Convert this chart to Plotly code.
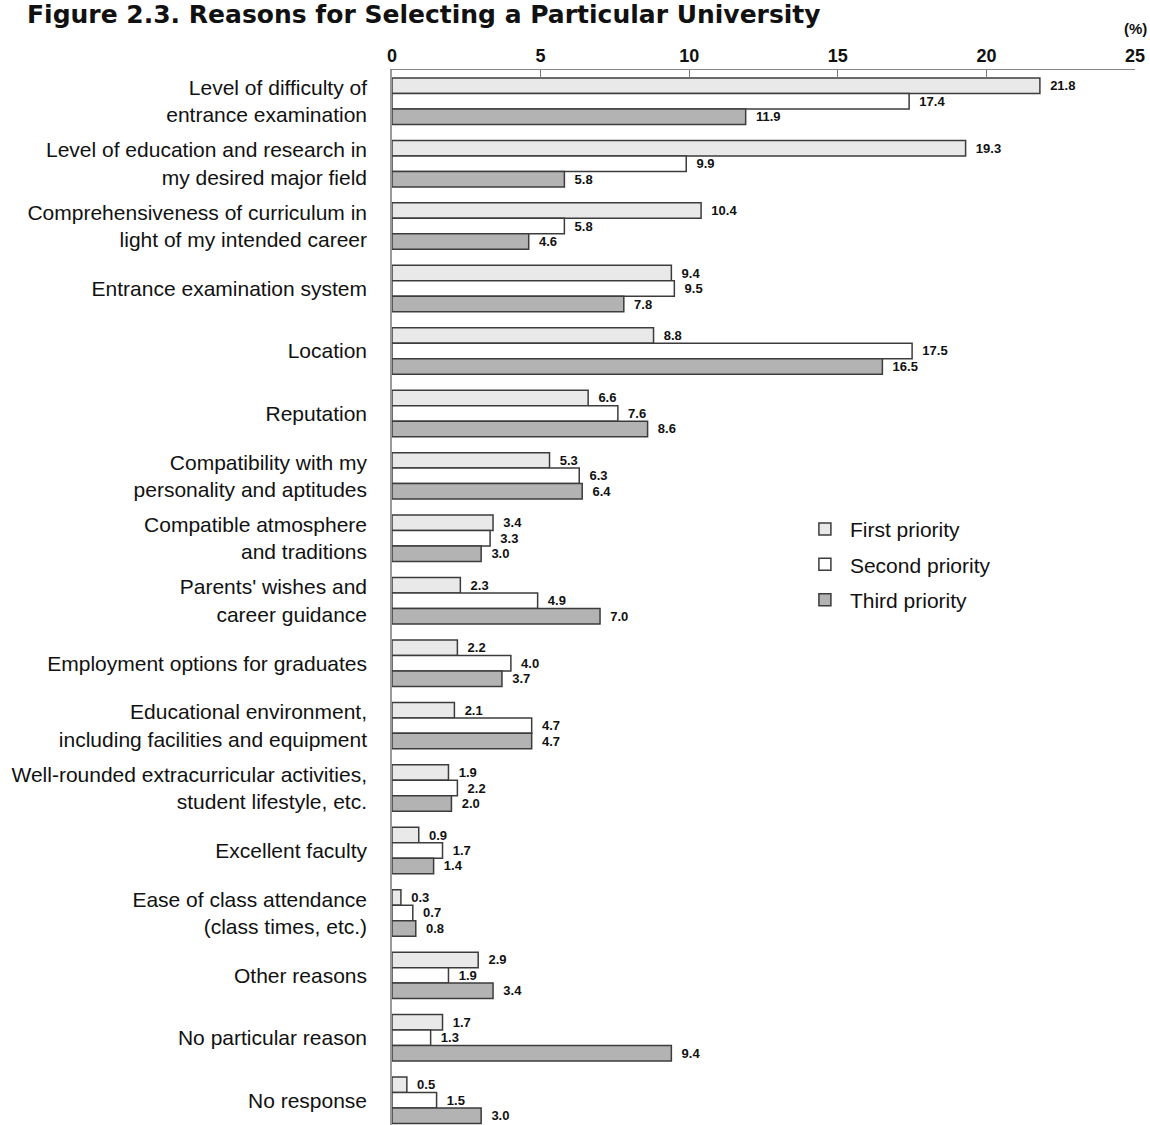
import plotly.graph_objects as go

categories = [
    "Level of difficulty of<br>entrance examination",
    "Level of education and research in<br>my desired major field",
    "Comprehensiveness of curriculum in<br>light of my intended career",
    "Entrance examination system",
    "Location",
    "Reputation",
    "Compatibility with my<br>personality and aptitudes",
    "Compatible atmosphere<br>and traditions",
    "Parents' wishes and<br>career guidance",
    "Employment options for graduates",
    "Educational environment,<br>including facilities and equipment",
    "Well-rounded extracurricular activities,<br>student lifestyle, etc.",
    "Excellent faculty",
    "Ease of class attendance<br>(class times, etc.)",
    "Other reasons",
    "No particular reason",
    "No response",
]
first_priority = [21.8, 19.3, 10.4, 9.4, 8.8, 6.6, 5.3, 3.4, 2.3, 2.2, 2.1, 1.9, 0.9, 0.3, 2.9, 1.7, 0.5]
second_priority = [17.4, 9.9, 5.8, 9.5, 17.5, 7.6, 6.3, 3.3, 4.9, 4.0, 4.7, 2.2, 1.7, 0.7, 1.9, 1.3, 1.5]
third_priority = [11.9, 5.8, 4.6, 7.8, 16.5, 8.6, 6.4, 3.0, 7.0, 3.7, 4.7, 2.0, 1.4, 0.8, 3.4, 9.4, 3.0]
series_names = ["First priority", "Second priority", "Third priority"]
x_ticks = [0, 5, 10, 15, 20, 25]

colors = ["#e9e9e9", "#ffffff", "#b3b3b3"]
FONT = "Liberation Sans, Arial, Helvetica, sans-serif"
TITLE_FONT = "DejaVu Sans, Liberation Sans, Arial, sans-serif"

positions = list(range(len(categories)))
fig = go.Figure()
for name, vals, col in zip(series_names, [first_priority, second_priority, third_priority], colors):
    fig.add_trace(go.Bar(
        name=name, y=positions, x=vals, orientation="h",
        legendgroup=name,
        marker=dict(color=col, line=dict(color="#3c3c3c", width=1.5)),
        texttemplate="\u00a0\u00a0<b>%{x:.1f}</b>", textposition="outside",
        textfont=dict(family=FONT, size=13, color="#111"),
        constraintext="none", cliponaxis=False,
    ))

W, H = 1150, 1125
top, left, right, bottom = 70, 392, 15, 0
plot_h = H - top - bottom
pitch = 62.44
fig.update_layout(
    width=W, height=H,
    margin=dict(l=left, r=right, t=top, b=bottom, pad=0),
    barmode="group", bargap=0.256, bargroupgap=0,
    plot_bgcolor="white", paper_bgcolor="white",
    font=dict(family=FONT, color="#111"),
    showlegend=True,
    legend=dict(x=0.549, y=0.584, xanchor="left", yanchor="top",
                font=dict(family=FONT, size=21, color="#111"),
                bgcolor="rgba(0,0,0,0)", traceorder="grouped",
                tracegroupgap=5, itemwidth=40),
    title=dict(text="<b>Figure 2.3. Reasons for Selecting a Particular University</b>",
               x=27 / W, xanchor="left", xref="container",
               y=1 - 14 / H, yanchor="middle", yref="container",
               pad=dict(t=0, b=0, l=0, r=0),
               font=dict(family=TITLE_FONT, size=25, color="#111")),
)
fig.update_xaxes(
    side="top", range=[0, 25], tickvals=x_ticks, ticks="inside", ticklen=8,
    tickcolor="#777", showline=True, linecolor="#888", linewidth=1,
    showgrid=False, zeroline=False, mirror=False,
    tickfont=dict(family=FONT, size=18, color="#111", weight="bold"),
)
fig.update_yaxes(
    range=[-0.5 + plot_h / pitch, -0.5], tickvals=positions, ticktext=categories,
    ticks="", showline=True, linecolor="#999", linewidth=1.5,
    showgrid=False, zeroline=False, ticklabelstandoff=19,
    tickfont=dict(family=FONT, size=21, color="#111"),
)
fig.add_annotation(text="<b>(%)</b>", xref="paper", yref="paper", x=1, y=1,
                   xanchor="center", yanchor="middle", yshift=42, xshift=0,
                   showarrow=False, font=dict(family=FONT, size=15, color="#111"))

fig.write_html("out.html")
